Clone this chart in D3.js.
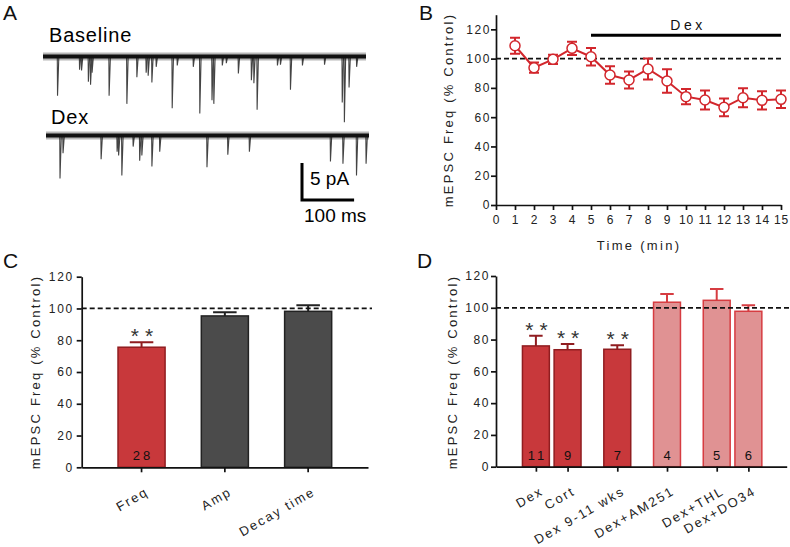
<!DOCTYPE html>
<html>
<head>
<meta charset="utf-8">
<script src="https://cdn.jsdelivr.net/npm/d3@7"></script>
<style>
  body { margin: 0; background: #fff; }
  svg { display: block; font-family: "Liberation Sans", Arial, sans-serif; }
  .axis { font-family: "Liberation Sans", Arial, sans-serif; }
  .axis path, .axis line { stroke: #111; stroke-width: 1.7; }
  .axis text { font-size: 12px; letter-spacing: 1.6px; fill: #222; }
  .ylabel { font-size: 13px; letter-spacing: 2.2px; fill: #222; }
</style>
</head>
<body>
<div id="figure"></div>
<script>
// Panel A: events, [time (ms), amplitude (pA)]
var traceLength = 620;
var baselineEvents = [[27.9, 5.3], [70.2, 1.8], [74, 1.9], [87.1, 3.4], [91.3, 3.8], [94.2, 2.2],
  [126.9, 5.3], [161, 6.4], [180.2, 2.8], [198, 2.2], [201.9, 2.6], [209, 3.5], [217.3, 1.4],
  [248, 7.0], [257.7, 1.2], [288.5, 1.4], [301, 7.7], [324.4, 5.9], [327.9, 6.4], [344.2, 1.2],
  [351.9, 0.9], [375, 2.3], [400, 3.2], [404.8, 3.6], [411, 7.2], [450, 1.2], [455.8, 1.1],
  [475, 4.5], [498, 1.2], [540.4, 1.1], [574.4, 6.2], [578.5, 8.9], [587.5, 4.2], [602, 1.4]];
var dexEvents = [[26.9, 5.8], [32.7, 2.4], [105.8, 3.2], [136.5, 2.2], [139.4, 2.7], [145.6, 5.4],
  [167.3, 1.5], [179.8, 3.4], [184, 2.7], [203.3, 4.2], [218.3, 2.2], [309, 4.3], [349, 2.6],
  [390.4, 2.2], [546, 3.5], [570, 3.8], [596, 5.4], [614.4, 3.8]];

// Panel B: time course
var timeMin = [1, 2, 3, 4, 5, 6, 7, 8, 9, 10, 11, 12, 13, 14, 15];
var freqMean = [108.8, 93.8, 99.5, 107, 101.3, 88.8, 85.4, 92.9, 84.7, 74, 71.7, 66.7, 73.3, 71.5, 72.2];
var freqSem = [5.5, 3.5, 3.1, 4.5, 6, 6, 5.8, 7.2, 8.1, 5.2, 6.5, 6.1, 6.5, 6.2, 6];
var dexPeriod = [5, 15];
var dexLevel = 116;

// Panel C: summary
var measureNames = ["Freq", "Amp", "Decay time"];
var measureMean = [75.6, 95.3, 98.2];
var measureSem = [3.1, 2.3, 3.8];
var measureN = ["28", "", ""];
var measureSig = ["**", "", ""];

// Panel D: conditions
var drugNames = ["Dex", "Cort", "Dex 9-11 wks", "Dex+AM251", "Dex+THL", "Dex+DO34"];
var drugGroup = [0, 0, 1, 2, 3, 3];
var drugMean = [76, 73.6, 73.9, 103.5, 104.7, 97.8];
var drugSem = [6.4, 3.6, 2.5, 5.2, 7.1, 3.8];
var drugN = ["11", "9", "7", "4", "5", "6"];
var drugSig = ["**", "**", "**", "", "", ""];
var drugBlocked = [false, false, false, true, true, true];

var yTicks = [0, 20, 40, 60, 80, 100, 120];

var red = "#d2262c";
var darkRed = "#c8383b", darkRedLine = "#901d20";
var pink = "#e09293", pinkLine = "#d63c41";
var gray = "#4b4b4b", grayLine = "#222";

var svg = d3.select("#figure").append("svg")
  .attr("width", 790)
  .attr("height", 547);

// panel letters
[["A", 3, 20], ["B", 419, 20], ["C", 3, 268], ["D", 417, 268]].forEach(function(p) {
  svg.append("text").attr("x", p[1]).attr("y", p[2])
    .attr("font-size", 21).attr("fill", "#111").text(p[0]);
});

// ---------- A: example traces ----------
var traceX = d3.scaleLinear().domain([0, traceLength]).range([0, 323]);
var traceY = d3.scaleLinear().domain([0, 5]).range([0, 37]);

function drawTrace(events, x0, y0) {
  var g = svg.append("g").attr("transform", `translate(${x0},${y0})`);
  g.selectAll("path.ev")
    .data(events)
    .enter()
    .append("path")
    .attr("class", "ev")
    .attr("d", d => `M${traceX(d[0] - 0.5)},0L${traceX(d[0])},${traceY(d[1])}L${traceX(d[0] + 2.5)},0`)
    .attr("fill", "none")
    .attr("stroke", "#444")
    .attr("stroke-width", 1.1);
  // fuzzy noise band
  g.append("line")
    .attr("x1", traceX(0)).attr("x2", traceX(traceLength))
    .attr("stroke", "#111").attr("stroke-width", 8).attr("stroke-opacity", 0.3);
  g.append("line")
    .attr("x1", traceX(0)).attr("x2", traceX(traceLength))
    .attr("stroke", "#111").attr("stroke-width", 4);
}
drawTrace(baselineEvents, 43, 56.5);
drawTrace(dexEvents, 46, 135.5);

svg.append("text").attr("x", 49).attr("y", 41.5).attr("font-size", 20)
  .attr("letter-spacing", 0.8).text("Baseline");
svg.append("text").attr("x", 51).attr("y", 124).attr("font-size", 20)
  .attr("letter-spacing", 0.8).text("Dex");

// scale bar
var sb = svg.append("g").attr("transform", "translate(302,200)");
sb.append("path")
  .attr("d", `M0,${-traceY(5)}L0,0L${traceX(100)},0`)
  .attr("fill", "none").attr("stroke", "#000").attr("stroke-width", 3);
svg.append("text").attr("x", 310).attr("y", 185).attr("font-size", 19).text("5 pA");
svg.append("text").attr("x", 304).attr("y", 221.5).attr("font-size", 19).text("100 ms");

// ---------- B: time course ----------
var xB = d3.scaleLinear().domain([0, 15]).range([496, 781]);
var yB = d3.scaleLinear().domain([0, 130]).range([205, 14.7]);

svg.append("g")
  .attr("class", "axis")
  .attr("transform", `translate(496,0)`)
  .call(d3.axisLeft(yB).tickValues(yTicks).tickSize(5).tickSizeOuter(0).tickPadding(0));

var bx = svg.append("g")
  .attr("class", "axis")
  .attr("transform", `translate(0,205)`)
  .call(d3.axisBottom(xB).tickValues(d3.range(0, 16)).tickSize(5).tickSizeOuter(0).tickPadding(5));
bx.selectAll("text").style("letter-spacing", "0.8px");

svg.append("text")
  .attr("class", "ylabel")
  .attr("x", 639).attr("y", 250)
  .attr("text-anchor", "middle")
  .style("letter-spacing", "2.3px")
  .text("Time (min)");

svg.append("text")
  .attr("class", "ylabel")
  .attr("transform", "translate(453,110) rotate(-90)")
  .attr("text-anchor", "middle")
  .text("mEPSC Freq (% Control)");

svg.append("line")
  .attr("x1", xB(0)).attr("x2", xB(15))
  .attr("y1", yB(100)).attr("y2", yB(100))
  .attr("stroke", "#111").attr("stroke-width", 1.8).attr("stroke-dasharray", "5,3");

// Dex application bar
svg.append("line")
  .attr("x1", xB(dexPeriod[0])).attr("x2", xB(dexPeriod[1]))
  .attr("y1", yB(dexLevel)).attr("y2", yB(dexLevel))
  .attr("stroke", "#000").attr("stroke-width", 3);
svg.append("text")
  .attr("x", xB((dexPeriod[0] + dexPeriod[1]) / 2) + 2).attr("y", yB(dexLevel) - 5)
  .attr("text-anchor", "middle").attr("font-size", 14).attr("letter-spacing", 3.5)
  .attr("fill", "#111")
  .text("Dex");

var bData = timeMin.map((t, i) => ({ t: t, m: freqMean[i], s: freqSem[i] }));
var bErr = svg.append("g").attr("stroke", red).attr("stroke-width", 2);
bErr.selectAll("path")
  .data(bData)
  .enter()
  .append("path")
  .attr("fill", "none")
  .attr("d", d => {
    var x = xB(d.t), y1 = yB(d.m + d.s), y2 = yB(d.m - d.s);
    return `M${x - 5},${y1}H${x + 5}M${x},${y1}V${y2}M${x - 5},${y2}H${x + 5}`;
  });

svg.append("path")
  .datum(bData)
  .attr("fill", "none")
  .attr("stroke", red)
  .attr("stroke-width", 2)
  .attr("d", d3.line().x(d => xB(d.t)).y(d => yB(d.m)));

svg.append("g").selectAll("circle")
  .data(bData)
  .enter()
  .append("circle")
  .attr("cx", d => xB(d.t))
  .attr("cy", d => yB(d.m))
  .attr("r", 5)
  .attr("fill", "#fff")
  .attr("stroke", red)
  .attr("stroke-width", 1.5);

// ---------- helpers for bar panels ----------
function rotateLabels(axisG) {
  axisG.selectAll(".tick text")
    .attr("x", 8).attr("y", 27).attr("dy", 0)
    .attr("text-anchor", "end")
    .attr("transform", "rotate(-30 8 27)")
    .style("font-size", "13px")
    .style("letter-spacing", "2px");
}

function drawBars(g, rows, xPos, bw, y) {
  g.selectAll("rect.bar")
    .data(rows)
    .enter()
    .append("rect")
    .attr("class", "bar")
    .attr("x", d => xPos(d) - bw / 2)
    .attr("width", bw)
    .attr("y", d => y(d.m))
    .attr("height", d => y(0) - y(d.m))
    .attr("fill", d => d.fill)
    .attr("stroke", d => d.line)
    .attr("stroke-width", 1.5);

  g.selectAll("path.err")
    .data(rows)
    .enter()
    .append("path")
    .attr("class", "err")
    .attr("fill", "none")
    .attr("stroke", d => d.line)
    .attr("stroke-width", 2)
    .attr("d", d => {
      var x = xPos(d), top = y(d.m + d.s);
      return `M${x},${y(d.m)}V${top}M${x - bw / 4},${top}H${x + bw / 4}`;
    });

  g.selectAll("text.n")
    .data(rows)
    .enter()
    .append("text")
    .attr("class", "n")
    .attr("x", d => xPos(d) + 1.5)
    .attr("y", y(0) - 7)
    .attr("text-anchor", "middle")
    .attr("font-size", 13)
    .attr("letter-spacing", 3)
    .attr("fill", "#111")
    .text(d => d.n);

  g.selectAll("text.sig")
    .data(rows.filter(d => d.sig))
    .enter()
    .append("text")
    .attr("class", "sig")
    .attr("x", d => xPos(d) + 3.5)
    .attr("y", d => y(d.m + d.s) + 1)
    .attr("text-anchor", "middle")
    .attr("font-size", 21)
    .attr("letter-spacing", 6)
    .attr("fill", "#333")
    .text(d => d.sig);
}

// ---------- C: summary bars ----------
var yC = d3.scaleLinear().domain([0, 120]).range([467.3, 276.7]);
var xC = d3.scaleBand().domain(measureNames).range([81.7, 368]).paddingInner(0.435).paddingOuter(0.436);

var cRows = measureNames.map((name, i) => ({
  name: name, m: measureMean[i], s: measureSem[i], n: measureN[i], sig: measureSig[i],
  fill: measureSig[i] ? darkRed : gray,
  line: measureSig[i] ? darkRedLine : grayLine
}));

var cg = svg.append("g");
drawBars(cg, cRows, d => xC(d.name) + xC.bandwidth() / 2, xC.bandwidth(), yC);

svg.append("g")
  .attr("class", "axis")
  .attr("transform", "translate(81.7,0)")
  .call(d3.axisLeft(yC).tickValues(yTicks).tickSize(5).tickSizeOuter(0).tickPadding(3));

var cx = svg.append("g")
  .attr("class", "axis")
  .attr("transform", `translate(0,${yC(0)})`)
  .call(d3.axisBottom(xC).tickSize(5).tickSizeOuter(0));
rotateLabels(cx);

svg.append("line")
  .attr("x1", 81.7).attr("x2", 372)
  .attr("y1", yC(100)).attr("y2", yC(100))
  .attr("stroke", "#111").attr("stroke-width", 1.8).attr("stroke-dasharray", "5,3");

svg.append("text")
  .attr("class", "ylabel")
  .attr("transform", "translate(40,372) rotate(-90)")
  .attr("text-anchor", "middle")
  .text("mEPSC Freq (% Control)");

// ---------- D: conditions ----------
var groupGap = 0.57;
var drugSlot = drugNames.map((name, i) => i + drugGroup[i] * groupGap);
var yD = d3.scaleLinear().domain([0, 120]).range([466.7, 276]);
var xD = d3.scaleLinear()
  .domain([d3.min(drugSlot) - 1.26, d3.max(drugSlot) + 1.21])
  .range([496, 786.7]);
var bwD = (xD(1) - xD(0)) * 0.85;

var dRows = drugNames.map((name, i) => ({
  name: name, slot: drugSlot[i], m: drugMean[i], s: drugSem[i], n: drugN[i], sig: drugSig[i],
  fill: drugBlocked[i] ? pink : darkRed,
  line: drugBlocked[i] ? pinkLine : darkRedLine
}));

var dg = svg.append("g");
drawBars(dg, dRows, d => xD(d.slot), bwD, yD);

svg.append("g")
  .attr("class", "axis")
  .attr("transform", "translate(496,0)")
  .call(d3.axisLeft(yD).tickValues(yTicks).tickSize(5).tickSizeOuter(0).tickPadding(1));

var dx = svg.append("g")
  .attr("class", "axis")
  .attr("transform", `translate(0,${yD(0)})`)
  .call(d3.axisBottom(xD).tickValues(drugSlot)
    .tickFormat((s, i) => drugNames[i]).tickSize(5).tickSizeOuter(0));
rotateLabels(dx);

svg.append("line")
  .attr("x1", 496).attr("x2", 790)
  .attr("y1", yD(100)).attr("y2", yD(100))
  .attr("stroke", "#111").attr("stroke-width", 1.8).attr("stroke-dasharray", "5,3");

svg.append("text")
  .attr("class", "ylabel")
  .attr("transform", "translate(457,372) rotate(-90)")
  .attr("text-anchor", "middle")
  .text("mEPSC Freq (% Control)");
</script>
</body>
</html>
